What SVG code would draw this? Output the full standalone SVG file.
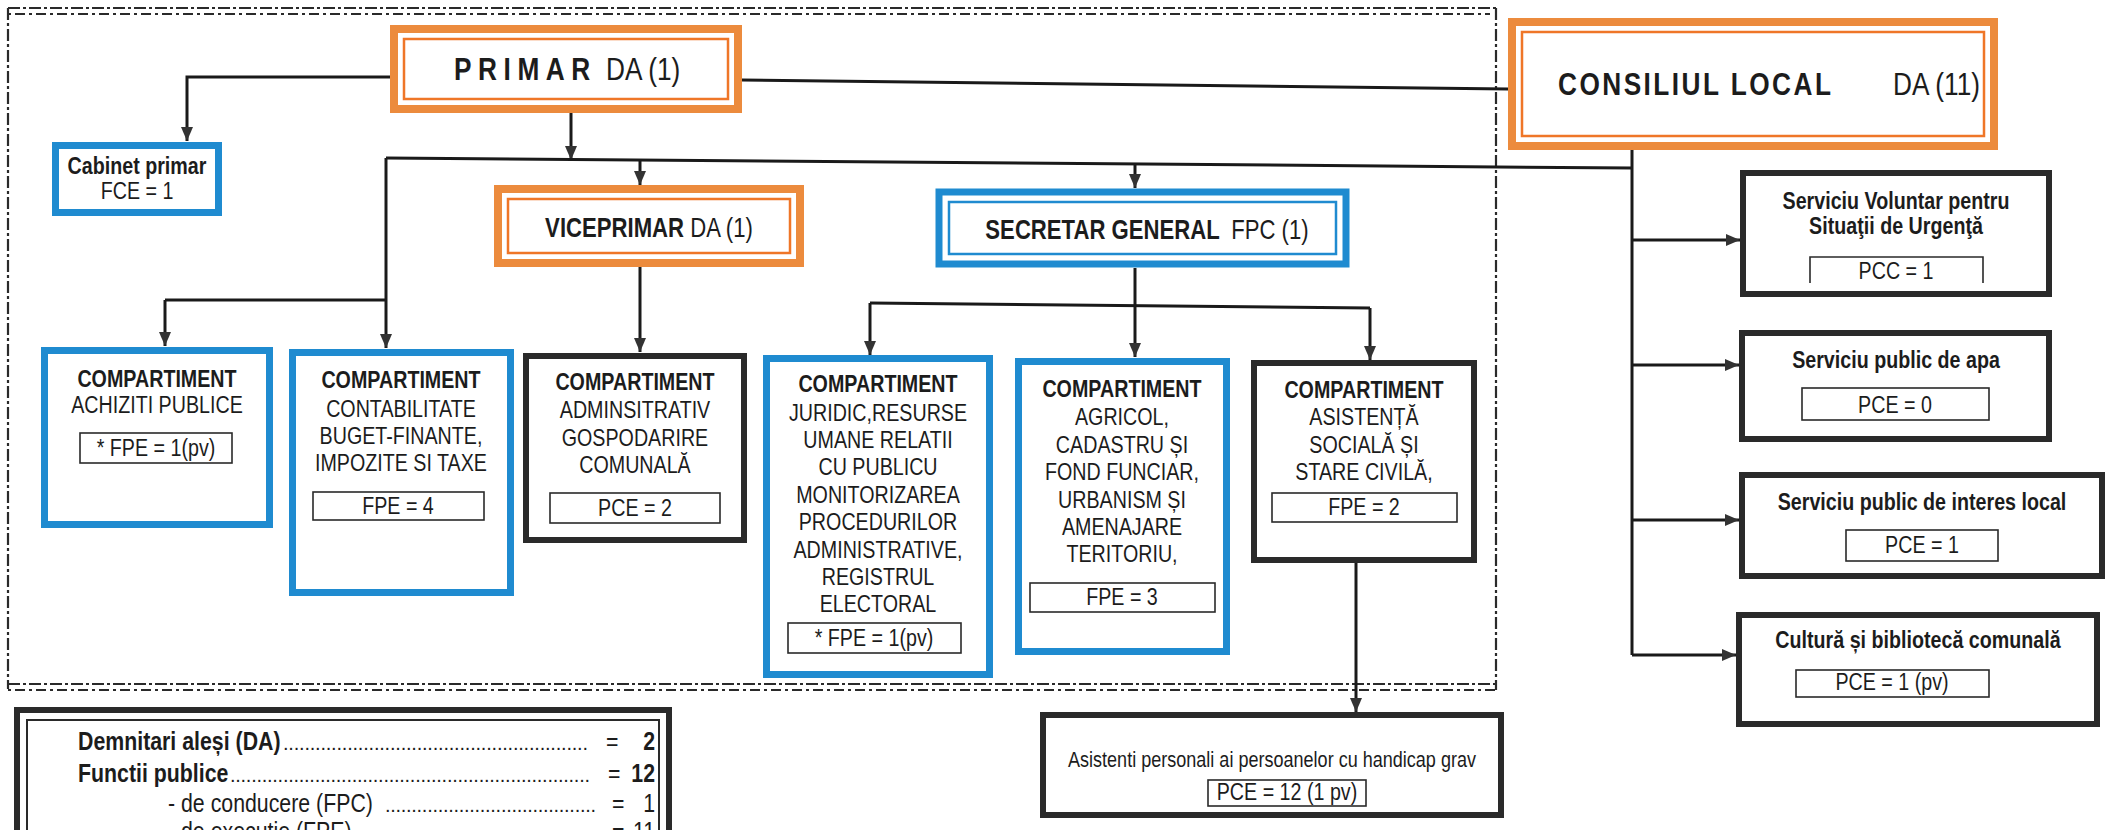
<svg xmlns="http://www.w3.org/2000/svg" width="2110" height="830" viewBox="0 0 2110 830">
<style>
.t{font-family:"Liberation Sans",Arial,sans-serif;fill:#1c1c1c;font-size:24px}
.b{font-weight:bold}
.c{text-anchor:middle}
.e{text-anchor:end}
.h{font-size:27px}
.hh{font-size:32px}
.lg{font-size:26px}
.dt{font-size:20px}
.or{fill:#fff;stroke:#EC8B3D;stroke-width:8}
.ori{fill:none;stroke:#EF7628;stroke-width:2.5}
.bl{fill:#fff;stroke:#1F8BD0;stroke-width:7}
.bli{fill:none;stroke:#1F8BD0;stroke-width:2.5}
.dk{fill:#fff;stroke:#2a2a2a;stroke-width:6}
.vb{fill:#fff;stroke:#2a2a2a;stroke-width:1.6}
.fr{fill:none;stroke:#2a2a2a;stroke-width:2.2}
.cn{fill:none;stroke:#1a1a1a;stroke-width:3}
</style>
<defs>
<marker id="ah" viewBox="0 0 14 12" refX="14" refY="6" markerWidth="14" markerHeight="12" markerUnits="userSpaceOnUse" orient="auto">
<path d="M0,0 L14,6 L0,12 z" fill="#333"/>
</marker>
</defs>
<rect width="2110" height="830" fill="#fff"/>

<g id="frame">
<path class="fr" d="M8,8 H1496" stroke-dasharray="12 3 3 3"/>
<path class="fr" d="M8,14 H1490" stroke-dasharray="3 4 10 4"/>
<path class="fr" d="M8,8 V689" stroke-dasharray="12 3 3 3"/>
<path class="fr" d="M8,684 H1496" stroke-dasharray="12 3 3 3"/>
<path class="fr" d="M8,690 H1496" stroke-dasharray="3 4 10 4"/>
<path class="fr" d="M1496,8 V690" stroke-dasharray="12 3 3 3"/>
</g>

<g id="connectors">
<polyline class="cn" points="390,77 187,77 187,141" marker-end="url(#ah)"/>
<line class="cn" x1="742" y1="80" x2="1508" y2="89" stroke-width="6"/>
<line class="cn" x1="571" y1="113" x2="571" y2="160" marker-end="url(#ah)"/>
<line class="cn" x1="386" y1="158" x2="1632" y2="168" stroke-width="3.5"/>
<line class="cn" x1="386" y1="158" x2="386" y2="300"/>
<line class="cn" x1="165" y1="300" x2="386" y2="300"/>
<line class="cn" x1="165" y1="300" x2="165" y2="346" marker-end="url(#ah)"/>
<line class="cn" x1="386" y1="300" x2="386" y2="348" marker-end="url(#ah)"/>
<line class="cn" x1="640" y1="160" x2="640" y2="185" marker-end="url(#ah)"/>
<line class="cn" x1="1135" y1="164" x2="1135" y2="188" marker-end="url(#ah)"/>
<line class="cn" x1="640" y1="267" x2="640" y2="352" marker-end="url(#ah)"/>
<line class="cn" x1="1135" y1="268" x2="1135" y2="305"/>
<line class="cn" x1="870" y1="303" x2="1370" y2="308"/>
<line class="cn" x1="870" y1="303" x2="870" y2="355" marker-end="url(#ah)"/>
<line class="cn" x1="1135" y1="305" x2="1135" y2="357" marker-end="url(#ah)"/>
<line class="cn" x1="1370" y1="308" x2="1370" y2="360" marker-end="url(#ah)"/>
<line class="cn" x1="1632" y1="148" x2="1632" y2="655"/>
<line class="cn" x1="1632" y1="240" x2="1740" y2="240" marker-end="url(#ah)"/>
<line class="cn" x1="1632" y1="365" x2="1739" y2="365" marker-end="url(#ah)"/>
<line class="cn" x1="1632" y1="520" x2="1739" y2="520" marker-end="url(#ah)"/>
<line class="cn" x1="1632" y1="655" x2="1736" y2="655" marker-end="url(#ah)"/>
<line class="cn" x1="1356" y1="563" x2="1356" y2="712" stroke-width="2" marker-end="url(#ah)"/>
</g>

<g id="primar">
<rect class="or" x="394" y="29" width="344" height="80"/>
<rect class="ori" x="404" y="39" width="324" height="60"/>
<text class="t hh b" transform="translate(454,80) scale(0.82,1)" letter-spacing="8">PRIMAR</text>
<text class="t hh" transform="translate(606,80) scale(0.82,1)">DA (1)</text>
</g>

<g id="consiliul">
<rect class="or" x="1512" y="22" width="482" height="124"/>
<rect class="ori" x="1522" y="32" width="462" height="104"/>
<text class="t hh b" transform="translate(1558,95) scale(0.82,1)" letter-spacing="3">CONSILIUL LOCAL</text>
<text class="t hh" transform="translate(1893,95) scale(0.82,1)">DA (11)</text>
</g>

<g id="cabinet">
<rect class="bl" x="55.5" y="145.5" width="163" height="67"/>
<text class="t b c" transform="translate(137,174) scale(0.82,1)">Cabinet primar</text>
<text class="t c" transform="translate(137,199) scale(0.82,1)">FCE = 1</text>
</g>

<g id="viceprimar">
<rect class="or" x="498" y="189" width="302" height="74"/>
<rect class="ori" x="508" y="199" width="282" height="54"/>
<text class="t h c" transform="translate(649,237) scale(0.82,1)"><tspan class="b">VICEPRIMAR</tspan> DA (1)</text>
</g>

<g id="secretar">
<rect class="bl" x="939" y="192" width="407" height="72" stroke-width="8"/>
<rect class="bli" x="949" y="202" width="387" height="52"/>
<text class="t h c" transform="translate(1147,239) scale(0.82,1)"><tspan class="b">SECRETAR GENERAL</tspan><tspan dx="14">FPC (1)</tspan></text>
</g>

<g id="achizitii">
<rect class="bl" x="44.5" y="350.5" width="225" height="174"/>
<text class="t b c" transform="translate(157,387) scale(0.82,1)">COMPARTIMENT</text>
<text class="t c" transform="translate(157,413) scale(0.82,1)">ACHIZITI PUBLICE</text>
<rect class="vb" x="80" y="433" width="152" height="30"/>
<text class="t c" transform="translate(156,456) scale(0.82,1)">* FPE = 1(pv)</text>
</g>

<g id="contabilitate">
<rect class="bl" x="292.5" y="352.5" width="218" height="240"/>
<text class="t b c" transform="translate(401,388) scale(0.82,1)">COMPARTIMENT</text>
<text class="t c" transform="translate(401,417) scale(0.82,1)">CONTABILITATE</text>
<text class="t c" transform="translate(401,444) scale(0.82,1)">BUGET-FINANTE,</text>
<text class="t c" transform="translate(401,471) scale(0.82,1)">IMPOZITE SI TAXE</text>
<rect class="vb" x="313" y="492" width="171" height="28"/>
<text class="t c" transform="translate(398,514) scale(0.82,1)">FPE  =  4</text>
</g>

<g id="administrativ">
<rect class="dk" x="526" y="356" width="218" height="184"/>
<text class="t b c" transform="translate(635,390) scale(0.82,1)">COMPARTIMENT</text>
<text class="t c" transform="translate(635,418) scale(0.82,1)">ADMINSITRATIV</text>
<text class="t c" transform="translate(635,446) scale(0.82,1)">GOSPODARIRE</text>
<text class="t c" transform="translate(635,473) scale(0.82,1)">COMUNALĂ</text>
<rect class="vb" x="550" y="493" width="170" height="30"/>
<text class="t c" transform="translate(635,516) scale(0.82,1)">PCE =  2</text>
</g>

<g id="juridic">
<rect class="bl" x="766.5" y="358.5" width="223" height="316"/>
<text class="t b c" transform="translate(878,392) scale(0.82,1)">COMPARTIMENT</text>
<text class="t c" transform="translate(878,421) scale(0.82,1)">JURIDIC,RESURSE</text>
<text class="t c" transform="translate(878,448) scale(0.82,1)">UMANE RELATII</text>
<text class="t c" transform="translate(878,475) scale(0.82,1)">CU PUBLICU</text>
<text class="t c" transform="translate(878,503) scale(0.82,1)">MONITORIZAREA</text>
<text class="t c" transform="translate(878,530) scale(0.82,1)">PROCEDURILOR</text>
<text class="t c" transform="translate(878,558) scale(0.82,1)">ADMINISTRATIVE,</text>
<text class="t c" transform="translate(878,585) scale(0.82,1)">REGISTRUL</text>
<text class="t c" transform="translate(878,612) scale(0.82,1)">ELECTORAL</text>
<rect class="vb" x="788" y="623" width="173" height="30"/>
<text class="t c" transform="translate(874,646) scale(0.82,1)">*  FPE  =  1(pv)</text>
</g>

<g id="agricol">
<rect class="bl" x="1018.5" y="361.5" width="208" height="290"/>
<text class="t b c" transform="translate(1122,397) scale(0.82,1)">COMPARTIMENT</text>
<text class="t c" transform="translate(1122,425) scale(0.82,1)">AGRICOL,</text>
<text class="t c" transform="translate(1122,453) scale(0.82,1)">CADASTRU ȘI</text>
<text class="t c" transform="translate(1122,480) scale(0.82,1)">FOND FUNCIAR,</text>
<text class="t c" transform="translate(1122,508) scale(0.82,1)">URBANISM ȘI</text>
<text class="t c" transform="translate(1122,535) scale(0.82,1)">AMENAJARE</text>
<text class="t c" transform="translate(1122,562) scale(0.82,1)">TERITORIU,</text>
<rect class="vb" x="1030" y="583" width="185" height="29"/>
<text class="t c" transform="translate(1122,605) scale(0.82,1)">FPE  =  3</text>
</g>

<g id="asistenta">
<rect class="dk" x="1254" y="363" width="220" height="197"/>
<text class="t b c" transform="translate(1364,398) scale(0.82,1)">COMPARTIMENT</text>
<text class="t c" transform="translate(1364,425) scale(0.82,1)">ASISTENȚĂ</text>
<text class="t c" transform="translate(1364,453) scale(0.82,1)">SOCIALĂ ȘI</text>
<text class="t c" transform="translate(1364,480) scale(0.82,1)">STARE CIVILĂ,</text>
<rect class="vb" x="1272" y="493" width="185" height="29"/>
<text class="t c" transform="translate(1364,515) scale(0.82,1)">FPE =  2</text>
</g>

<g id="voluntar">
<rect class="dk" x="1743" y="173" width="306" height="121"/>
<text class="t b c" transform="translate(1896,209) scale(0.82,1)">Serviciu Voluntar pentru</text>
<text class="t b c" transform="translate(1896,234) scale(0.82,1)">Situaţii  de Urgenţă</text>
<path d="M1810,283 V257 H1983 V283" fill="none" stroke="#2a2a2a" stroke-width="1.6"/>
<text class="t c" transform="translate(1896,279) scale(0.82,1)">PCC  = 1</text>
</g>

<g id="apa">
<rect class="dk" x="1742" y="333" width="307" height="106"/>
<text class="t b c" transform="translate(1896,368) scale(0.82,1)">Serviciu public de apa</text>
<rect class="vb" x="1802" y="388" width="187" height="32"/>
<text class="t c" transform="translate(1895,413) scale(0.82,1)">PCE    =  0</text>
</g>

<g id="interes">
<rect class="dk" x="1742" y="475" width="360" height="101"/>
<text class="t b c" transform="translate(1922,510) scale(0.82,1)">Serviciu public de interes local</text>
<rect class="vb" x="1846" y="530" width="152" height="31"/>
<text class="t c" transform="translate(1922,553) scale(0.82,1)">PCE  =  1</text>
</g>

<g id="cultura">
<rect class="dk" x="1739" y="615" width="358" height="109"/>
<text class="t b c" transform="translate(1918,648) scale(0.82,1)">Cultură și bibliotecă comunală</text>
<rect class="vb" x="1796" y="670" width="193" height="27"/>
<text class="t c" transform="translate(1892,690) scale(0.82,1)">PCE    = 1 (pv)</text>
</g>

<g id="asistenti">
<rect class="dk" x="1043" y="715" width="458" height="100"/>
<text class="t c" transform="translate(1272,767) scale(0.82,1)" style="font-size:22px">Asistenti personali ai persoanelor cu handicap grav</text>
<rect class="vb" x="1208" y="780" width="158" height="26"/>
<text class="t c" transform="translate(1287,800) scale(0.82,1)">PCE  = 12 (1 pv)</text>
</g>

<g id="legend">
<rect class="dk" x="17" y="710" width="652" height="170"/>
<rect fill="none" stroke="#2a2a2a" stroke-width="2" x="27" y="720" width="632" height="160"/>
<text class="t lg b" transform="translate(78,750) scale(0.82,1)">Demnitari aleși (DA)</text>
<text class="t dt" x="283" y="750" textLength="305" lengthAdjust="spacing">.........................................................</text>
<text class="t lg" transform="translate(606,750) scale(0.82,1)">=</text>
<text class="t lg b e" transform="translate(655,750) scale(0.82,1)">2</text>
<text class="t lg b" transform="translate(78,782) scale(0.82,1)">Functii publice</text>
<text class="t dt" x="230" y="782" textLength="360" lengthAdjust="spacing">....................................................................</text>
<text class="t lg" transform="translate(608,782) scale(0.82,1)">=</text>
<text class="t lg b e" transform="translate(655,782) scale(0.82,1)">12</text>
<text class="t lg" transform="translate(168,812) scale(0.82,1)">- de conducere (FPC)</text>
<text class="t dt" x="385" y="812" textLength="211" lengthAdjust="spacing">........................................</text>
<text class="t lg" transform="translate(612,812) scale(0.82,1)">=</text>
<text class="t lg e" transform="translate(655,812) scale(0.82,1)">1</text>
<text class="t lg" transform="translate(168,840) scale(0.82,1)">- de executie (FPE)</text>
<text class="t dt" x="372" y="840" textLength="224" lengthAdjust="spacing">..........................................</text>
<text class="t lg" transform="translate(612,840) scale(0.82,1)">=</text>
<text class="t lg e" transform="translate(655,840) scale(0.82,1)">11</text>
</g>
</svg>
